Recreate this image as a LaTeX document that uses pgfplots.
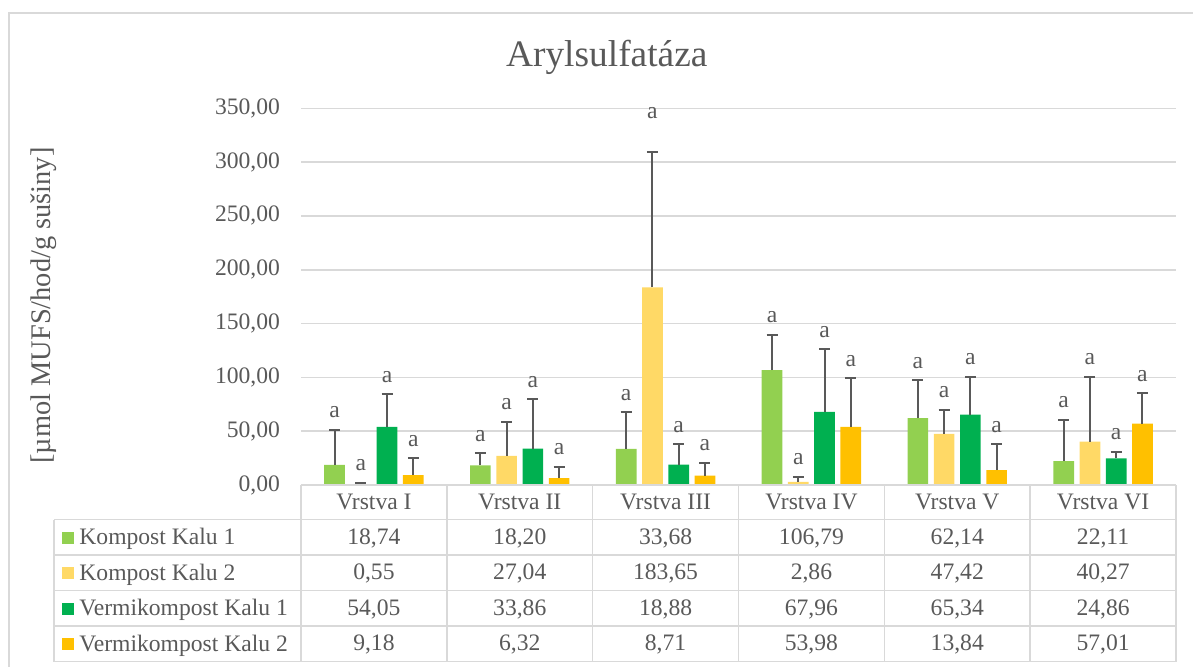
\documentclass[border=0pt]{standalone}
\usepackage{pgfplots}
\pgfplotsset{compat=1.18}
\usepackage{pgfplotstable}
\usepackage{fontspec}
\setmainfont{Liberation Serif}

\definecolor{txt}{HTML}{595959}
\definecolor{grd}{HTML}{D9D9D9}
\definecolor{kkA}{HTML}{92D050}
\definecolor{kkB}{HTML}{FFD966}
\definecolor{vkA}{HTML}{00B050}
\definecolor{vkB}{HTML}{FFC000}

% means and (upper) errors per layer; lift = extra height of the letter label
\pgfplotstableread{
x kkA kkB vkA vkB ekkA ekkB evkA evkB lift
0 18.74 0.55 54.05 9.18 32.4 1.5 30.1 15.9 0
1 18.20 27.04 33.86 6.32 11.2 31.8 45.7 10.7 0
2 33.68 183.65 18.88 8.71 33.8 125.5 19.2 12.0 20
3 106.79 2.86 67.96 53.98 32.6 4.8 58.4 45.1 0
4 62.14 47.42 65.34 13.84 35.2 22.3 35.3 24.0 0
5 22.11 40.27 24.86 57.01 38.6 60.3 6.1 28.2 0
}\data

\newcommand{\fs}{\fontsize{11.8}{14}\selectfont}

\pgfplotsset{
  bb/.style 2 args={ybar, bar width=0.142, bar shift=#2, draw=none, fill=#1,
    legend image code/.code={\fill[#1] (0pt,-3pt) rectangle (6pt,3pt);}},
  eb/.style={forget plot, draw=none, mark=none,
    error bars/.cd, y dir=plus, y explicit,
    error bar style={draw=txt, line width=1pt},
    error mark options={rotate=90, draw=txt, mark size=2.75pt, line width=1pt}},
  lab/.style={forget plot, draw=none, mark=none, nodes near coords={a},
    every node near coord/.append style={anchor=base, yshift=6pt, text=txt, font=\fs}},
}

\begin{document}
\begin{tikzpicture}
\useasboundingbox (0,0) rectangle (596.5pt,333pt);

% chart frame
\draw[grd, line width=0.75pt] (4.5pt,-5pt) -- (4.5pt,326.5pt) -- (605pt,326.5pt);

\node[anchor=base, font=\fontsize{18.7}{22}\selectfont, text=txt] at (303.4pt,299.6pt) {Arylsulfatáza};
\node[rotate=90, font=\fontsize{14.2}{17}\selectfont, text=txt] at (22pt,180.25pt) {[µmol MUFS/hod/g sušiny]};

\begin{axis}[
  scale only axis, width=437.5pt, height=188.35pt,
  at={(150.5pt,90.5pt)}, anchor=south west,
  xmin=-0.5, xmax=5.5, ymin=0, ymax=350,
  xtick=\empty, ytick={0,50,...,350},
  axis line style={draw=none},
  major tick length=0pt,
  ymajorgrids, grid style={grd, line width=0.75pt},
  y tick label style={/pgf/number format/.cd, fixed, fixed zerofill, precision=2,
    use comma, 1000 sep={}, assume math mode=true, /tikz/.cd,
    font=\fs, text=txt, xshift=-7pt},
  clip=false,
  legend style={at={(rel axis cs:-0.2731,-0.0916)}, anchor=north west,
    draw=none, fill=none, inner sep=0pt, row sep=0pt, column sep=2.5pt,
    font=\fs, text=txt,
    nodes={inner sep=0pt, text height=12.3pt, text depth=5.45pt},
    cells={anchor=west}},
]
\addplot[bb={kkA}{-0.27}] table[x=x, y=kkA]{\data};
\addplot[bb={kkB}{-0.09}] table[x=x, y=kkB]{\data};
\addplot[bb={vkA}{0.09}] table[x=x, y=vkA]{\data};
\addplot[bb={vkB}{0.27}] table[x=x, y=vkB]{\data};
\legend{Kompost Kalu 1, Kompost Kalu 2, Vermikompost Kalu 1, Vermikompost Kalu 2}
% error bars
\addplot[eb] table[x expr=\thisrow{x}-0.27, y=kkA, y error=ekkA]{\data};
\addplot[eb] table[x expr=\thisrow{x}-0.09, y=kkB, y error=ekkB]{\data};
\addplot[eb] table[x expr=\thisrow{x}+0.09, y=vkA, y error=evkA]{\data};
\addplot[eb] table[x expr=\thisrow{x}+0.27, y=vkB, y error=evkB]{\data};
% significance letters above the error bars
\addplot[lab] table[x expr=\thisrow{x}-0.27, y expr=\thisrow{kkA}+\thisrow{ekkA}]{\data};
\addplot[lab] table[x expr=\thisrow{x}-0.09, y expr=\thisrow{kkB}+\thisrow{ekkB}+\thisrow{lift}]{\data};
\addplot[lab] table[x expr=\thisrow{x}+0.09, y expr=\thisrow{vkA}+\thisrow{evkA}]{\data};
\addplot[lab] table[x expr=\thisrow{x}+0.27, y expr=\thisrow{vkB}+\thisrow{evkB}]{\data};
\end{axis}

% data table below the plot
\begin{scope}[grd, line width=0.75pt]
  \draw (150.5pt,90.5pt) -- (588pt,90.5pt);
  \foreach \k in {0,...,4} \draw (27pt,{73.25pt-17.75pt*\k}) -- (588pt,{73.25pt-17.75pt*\k});
  \draw (27pt,73.25pt) -- (27pt,2.25pt);
  \foreach \i in {0,...,6} \draw ({150.5pt+72.917pt*\i},90.5pt) -- ({150.5pt+72.917pt*\i},2.25pt);
\end{scope}
\begin{scope}[/pgf/number format/.cd, fixed, fixed zerofill, precision=2, use comma,
    assume math mode=true, /tikz/.cd, font=\fs, text=txt]
  \foreach \h [count=\i from 0] in {Vrstva I, Vrstva II, Vrstva III, Vrstva IV, Vrstva V, Vrstva VI}
    \node[anchor=base, inner sep=0pt] at ({150.5pt+72.917pt*(\i+0.5)},78.35pt) {\h};
  \foreach \c [count=\j from 0] in {kkA,kkB,vkA,vkB} {
    \foreach \r in {0,...,5} {
      \pgfplotstablegetelem{\r}{\c}\of\data
      \node[anchor=base, inner sep=0pt] at ({150.5pt+72.917pt*(\r+0.5)},{61pt-17.75pt*\j})
        {\pgfmathprintnumber{\pgfplotsretval}};
    }
  }
\end{scope}
\end{tikzpicture}
\end{document}
